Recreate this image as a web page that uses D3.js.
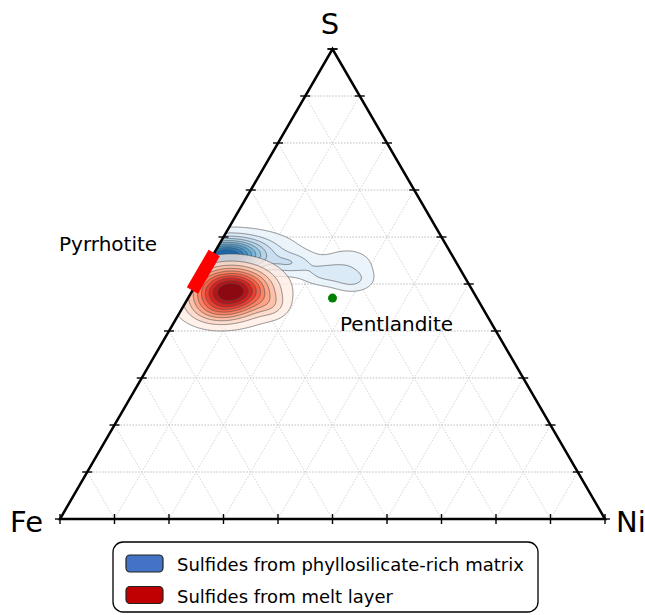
<!doctype html>
<html lang="en">
<head>
  <meta charset="utf-8">
  <style>
    body { margin: 0; background: #fff; }
    svg { display: block; font-family: "DejaVu Sans", sans-serif; }
  </style>
</head>
<body>
  <script src="https://d3js.org/d3.v7.min.js"></script>
  <div id="chart"></div>
  <script>
    // ---- data ----
    // ternary components: S fraction (top), Ni fraction (right), Fe = 1 - S - Ni
    var tickSteps = d3.range(0, 11).map(function (k) { return k / 10; });
    var gridSteps = d3.range(1, 10).map(function (k) { return k / 10; });

    // density blobs approximating the KDE of each sulfide group
    // [S, Ni, spread along Fe-Ni direction, spread along S, weight]
    var matrixS      = [0.560, 0.570, 0.545, 0.523, 0.509, 0.534, 0.550];
    var matrixNi     = [0.021, 0.050, 0.150, 0.225, 0.282, 0.256, 0.255];
    var matrixSx     = [0.040, 0.056, 0.028, 0.028, 0.022, 0.036, 0.030];
    var matrixSy     = [0.023, 0.025, 0.015, 0.015, 0.015, 0.024, 0.022];
    var matrixW      = [1.00, 0.30, 0.22, 0.17, 0.15, 0.08, 0.05];

    var meltS  = [0.487, 0.445, 0.455];
    var meltNi = [0.070, 0.062, 0.161];
    var meltSx = [0.046, 0.035, 0.018];
    var meltSy = [0.032, 0.022, 0.017];
    var meltW  = [1.00, 0.20, 0.10];

    var pyrrhotiteS = [0.486, 0.566];     // Fe(1-x)S range on Fe-S join
    var pentlandite = { s: 0.47, ni: 0.265 };

    var legendLabels = ["Sulfides from phyllosilicate-rich matrix", "Sulfides from melt layer"];
    var legendColors = ["#4472c4", "#c00000"];

    // ---- setup ----
    var width = 645, height = 615;
    var svg = d3.select("#chart").append("svg")
      .attr("width", width).attr("height", height);

    var xScale = d3.scaleLinear().domain([0, 1]).range([60, 605]);
    var sScale = d3.scaleLinear().domain([0, 1]).range([519, 49]);
    var side = 545, tall = 470;

    function pt(s, ni) { return [xScale(ni + s / 2), sScale(s)]; }

    var feV = pt(0, 0), niV = pt(0, 1), sV = pt(1, 0);

    svg.append("clipPath").attr("id", "tri")
      .append("polygon").attr("points", [feV, niV, sV].map(function (p) { return p.join(","); }).join(" "));

    // ---- grid ----
    var grid = svg.append("g").attr("fill", "none");
    gridSteps.forEach(function (v) {
      var a = pt(v, 0), b = pt(v, 1 - v);
      grid.append("line").attr("x1", a[0]).attr("y1", a[1]).attr("x2", b[0]).attr("y2", b[1])
        .attr("stroke", "#b5b5b5").attr("stroke-width", 0.9).attr("stroke-dasharray", "1.5,1.5");
      var c = pt(0, v), d = pt(1 - v, v);
      grid.append("line").attr("x1", c[0]).attr("y1", c[1]).attr("x2", d[0]).attr("y2", d[1])
        .attr("stroke", "#cfcfcf").attr("stroke-width", 0.9).attr("stroke-dasharray", "1.5,1.5");
      var e = pt(0, 1 - v), f = pt(1 - v, 0);
      grid.append("line").attr("x1", e[0]).attr("y1", e[1]).attr("x2", f[0]).attr("y2", f[1])
        .attr("stroke", "#cfcfcf").attr("stroke-width", 0.9).attr("stroke-dasharray", "1.5,1.5");
    });

    // ---- density contours ----
    var gx0 = 140, gy0 = 200, gw = 300, gh = 160;
    function densityGrid(S, Ni, Sx, Sy, W) {
      var vals = new Float64Array(gw * gh);
      var comps = S.map(function (s, i) {
        var c = pt(s, Ni[i]);
        return { cx: c[0], cy: c[1], sx: Sx[i] * side, sy: Sy[i] * tall, w: W[i] };
      });
      for (var j = 0; j < gh; j++) {
        for (var i = 0; i < gw; i++) {
          var x = gx0 + i, y = gy0 + j, v = 0;
          comps.forEach(function (c) {
            var dx = (x - c.cx) / c.sx, dy = (y - c.cy) / c.sy;
            v += c.w * Math.exp(-0.5 * (dx * dx + dy * dy));
          });
          vals[j * gw + i] = v;
        }
      }
      return vals;
    }

    var gridPath = d3.geoPath(d3.geoTransform({
      point: function (x, y) { this.stream.point(gx0 + x, gy0 + y); }
    }));

    function drawKde(vals, interp, lo, hi, opacity, base) {
      var max = d3.max(vals);
      var n = 10;
      var thresholds = d3.range(n).map(function (i) { return max * (base + (0.97 - base) * i / n); });
      var contours = d3.contours().size([gw, gh]).thresholds(thresholds)(vals);
      var g = svg.append("g").attr("clip-path", "url(#tri)");
      g.selectAll("path").data(contours).enter().append("path")
        .attr("d", gridPath)
        .attr("fill", function (d, i) { return interp(lo + (hi - lo) * i / (n - 1)); })
        .attr("fill-opacity", opacity)
        .attr("stroke", "#4a4a4a")
        .attr("stroke-opacity", 0.75)
        .attr("stroke-width", 0.8);
    }

    drawKde(densityGrid(matrixS, matrixNi, matrixSx, matrixSy, matrixW), d3.interpolateBlues, 0.08, 0.8, 0.85, 0.045);
    drawKde(densityGrid(meltS, meltNi, meltSx, meltSy, meltW), d3.interpolateReds, 0.06, 0.95, 0.75, 0.05);

    // ---- triangle frame & ticks ----
    svg.append("polygon")
      .attr("points", [feV, niV, sV].map(function (p) { return p.join(","); }).join(" "))
      .attr("fill", "none").attr("stroke", "#000").attr("stroke-width", 2.5)
      .attr("stroke-linejoin", "miter");

    var ticks = svg.append("g").attr("stroke", "#000").attr("stroke-width", 1.4);
    tickSteps.forEach(function (v) {
      var l = pt(v, 0);
      ticks.append("line").attr("x1", l[0] - 5).attr("x2", l[0] + 5).attr("y1", l[1]).attr("y2", l[1]);
      var r = pt(v, 1 - v);
      ticks.append("line").attr("x1", r[0] - 5).attr("x2", r[0] + 5).attr("y1", r[1]).attr("y2", r[1]);
      var b = pt(0, v);
      ticks.append("line").attr("x1", b[0]).attr("x2", b[0]).attr("y1", b[1] - 5).attr("y2", b[1] + 5);
    });

    // ---- pyrrhotite bar & pentlandite point ----
    var p1 = pt(pyrrhotiteS[0], 0), p2 = pt(pyrrhotiteS[1], 0);
    svg.append("line").attr("x1", p1[0]).attr("y1", p1[1]).attr("x2", p2[0]).attr("y2", p2[1])
      .attr("stroke", "#ff0000").attr("stroke-width", 13);

    var pp = pt(pentlandite.s, pentlandite.ni);
    svg.append("circle").attr("cx", pp[0]).attr("cy", pp[1]).attr("r", 4.5).attr("fill", "#008000");

    // ---- labels ----
    svg.append("text").attr("x", 330).attr("y", 34).attr("text-anchor", "middle")
      .attr("font-size", 29).text("S");
    svg.append("text").attr("x", 43).attr("y", 532).attr("text-anchor", "end")
      .attr("font-size", 29).text("Fe");
    svg.append("text").attr("x", 616).attr("y", 532)
      .attr("font-size", 29).text("Ni");
    svg.append("text").attr("x", 59).attr("y", 251)
      .attr("font-size", 20).text("Pyrrhotite");
    svg.append("text").attr("x", 340).attr("y", 331)
      .attr("font-size", 20).text("Pentlandite");

    // ---- legend ----
    var leg = svg.append("g");
    leg.append("rect").attr("x", 113).attr("y", 542).attr("width", 425).attr("height", 70)
      .attr("rx", 10).attr("fill", "#fff").attr("stroke", "#000").attr("stroke-width", 1.3);
    legendLabels.forEach(function (lab, i) {
      leg.append("rect").attr("x", 126).attr("y", 555 + i * 31.5).attr("width", 37).attr("height", 17)
        .attr("rx", 4).attr("fill", legendColors[i]).attr("stroke", "#222").attr("stroke-width", 1.2);
      leg.append("text").attr("x", 177).attr("y", 571 + i * 31.5)
        .attr("font-size", 18).text(lab);
    });
  </script>
</body>
</html>
